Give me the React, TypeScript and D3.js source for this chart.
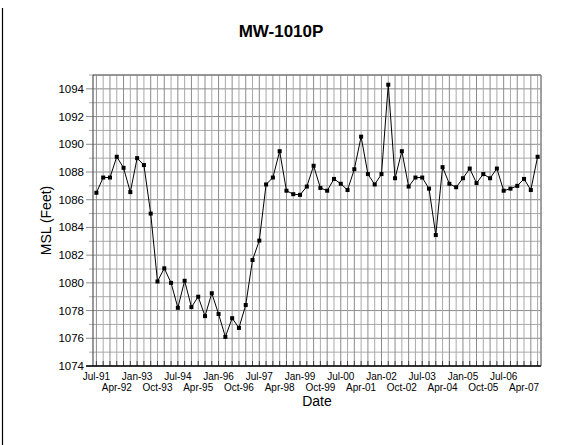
import React from "react";
import * as d3 from "d3";

const dates: string[] = [
  "Jul-91","Oct-91","Jan-92","Apr-92","Jul-92","Oct-92","Jan-93","Apr-93","Jul-93","Oct-93",
  "Jan-94","Apr-94","Jul-94","Oct-94","Jan-95","Apr-95","Jul-95","Oct-95","Jan-96","Apr-96",
  "Jul-96","Oct-96","Jan-97","Apr-97","Jul-97","Oct-97","Jan-98","Apr-98","Jul-98","Oct-98",
  "Jan-99","Apr-99","Jul-99","Oct-99","Jan-00","Apr-00","Jul-00","Oct-00","Jan-01","Apr-01",
  "Jul-01","Oct-01","Jan-02","Apr-02","Jul-02","Oct-02","Jan-03","Apr-03","Jul-03","Oct-03",
  "Jan-04","Apr-04","Jul-04","Oct-04","Jan-05","Apr-05","Jul-05","Oct-05","Jan-06","Apr-06",
  "Jul-06","Oct-06","Jan-07","Apr-07","Jul-07","Oct-07",
];

const msl: number[] = [
  1086.5, 1087.6, 1087.6, 1089.1, 1088.3, 1086.55, 1089.0, 1088.5, 1085.0, 1080.1,
  1081.05, 1080.0, 1078.2, 1080.15, 1078.25, 1079.0, 1077.6, 1079.25, 1077.75, 1076.1,
  1077.45, 1076.75, 1078.4, 1081.65, 1083.05, 1087.1, 1087.6, 1089.5, 1086.65, 1086.4,
  1086.35, 1086.95, 1088.45, 1086.85, 1086.65, 1087.5, 1087.15, 1086.7, 1088.2, 1090.55,
  1087.85, 1087.1, 1087.85, 1094.3, 1087.55, 1089.5, 1086.95, 1087.6, 1087.6, 1086.8,
  1083.45, 1088.35, 1087.15, 1086.9, 1087.55, 1088.25, 1087.2, 1087.85, 1087.55, 1088.25,
  1086.65, 1086.8, 1087.0, 1087.5, 1086.7, 1089.1,
];

const yMajorTicks: number[] = [1074, 1076, 1078, 1080, 1082, 1084, 1086, 1088, 1090, 1092, 1094];
const yMinorTicks: number[] = [1075, 1077, 1079, 1081, 1083, 1085, 1087, 1089, 1091, 1093, 1095];

const title = "MW-1010P";
const xTitle = "Date";
const yTitle = "MSL (Feet)";

export default function App() {
  const W = 571, H = 445;
  const left = 93, right = 541, top = 75, bottom = 366;
  const x = d3.scalePoint<string>().domain(dates).range([left, right]).padding(0.5);
  const y = d3.scaleLinear().domain([1074, 1095]).range([bottom, top]);
  const line = d3.line<number>().x((_, i) => x(dates[i]) as number).y((d) => y(d));
  const font = "Arial, 'Liberation Sans', sans-serif";

  return (
    <svg width={W} height={H} style={{ position: "absolute", left: 0, top: 0, background: "#fff" }} fontFamily={font}>
      <rect x={0} y={0} width={W} height={H} fill="#fff" />
      <line x1={2.5} x2={2.5} y1={8} y2={445} stroke="#000" strokeWidth={1.2} />
      <text x={281} y={37} textAnchor="middle" fontSize={17} fontWeight="bold">{title}</text>
      {/* horizontal grid */}
      {yMinorTicks.map((v) => (
        <line key={"hm" + v} x1={left - 4} x2={right} y1={y(v)} y2={y(v)} stroke="#aaa" strokeWidth={1} />
      ))}
      {yMajorTicks.map((v) => (
        <line key={"hM" + v} x1={left - 7} x2={right} y1={y(v)} y2={y(v)} stroke="#8c8c8c" strokeWidth={1} />
      ))}
      {/* vertical grid */}
      {dates.map((d, i) => (
        <line key={"v" + d} x1={x(d)} x2={x(d)} y1={top} y2={bottom} stroke={i % 2 === 0 ? "#8c8c8c" : "#aaa"} strokeWidth={1} />
      ))}
      {/* x ticks inside */}
      {dates.map((d) => (
        <line key={"t" + d} x1={x(d)} x2={x(d)} y1={bottom} y2={bottom - 5} stroke="#444" strokeWidth={1} />
      ))}
      {/* frame */}
      <line x1={left} x2={right} y1={top} y2={top} stroke="#808080" strokeWidth={1.5} />
      <line x1={right} x2={right} y1={top} y2={bottom} stroke="#808080" strokeWidth={1.5} />
      <line x1={left} x2={left} y1={top} y2={bottom} stroke="#555" strokeWidth={1.2} />
      <line x1={left - 7} x2={right} y1={bottom} y2={bottom} stroke="#000" strokeWidth={1.5} />
      {/* y labels */}
      {yMajorTicks.map((v) => (
        <text key={"yl" + v} x={left - 9} y={y(v) + 4} textAnchor="end" fontSize={11.5}>{v}</text>
      ))}
      {/* x labels */}
      {dates.map((d, i) =>
        i % 3 === 0 ? (
          <text key={"xl" + d} x={x(d)} y={(i / 3) % 2 === 0 ? 380 : 391} textAnchor="middle" fontSize={10}>{d}</text>
        ) : null
      )}
      <text x={317} y={406} textAnchor="middle" fontSize={14}>{xTitle}</text>
      <text transform={`translate(51,${(top + bottom) / 2}) rotate(-90)`} textAnchor="middle" fontSize={14}>{yTitle}</text>
      {/* series */}
      <path d={line(msl) || ""} fill="none" stroke="#000" strokeWidth={1} />
      {msl.map((v, i) => (
        <rect key={"p" + i} x={(x(dates[i]) as number) - 2} y={y(v) - 2} width={4} height={4} fill="#000" />
      ))}
    </svg>
  );
}
